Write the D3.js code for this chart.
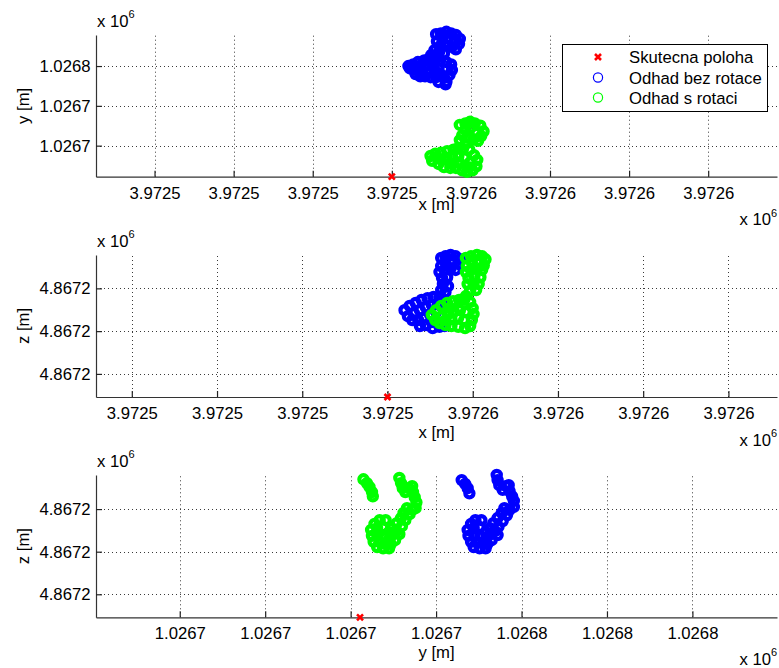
<!DOCTYPE html>
<html>
<head>
<meta charset="utf-8">
<script src="https://cdn.jsdelivr.net/npm/d3@7"></script>
<style>
  html, body { margin: 0; padding: 0; background: #fff; }
  svg { display: block; font-family: "Liberation Sans", Arial, Helvetica, sans-serif; }
</style>
</head>
<body>
<svg id="chart" width="779" height="668"></svg>
<script>
// ---- true receiver position [m] ----
const truthX = [3972545.0];
const truthY = [1026737.1];
const truthZ = [4867184.6];

// ---- position estimates without rotation (blue) ----
const xyBez = [
  [3972550.6,1026755.0],[3972551.2,1026755.1],[3972551.9,1026755.3],[3972552.5,1026755.1],[3972553.1,1026754.9],
  [3972553.6,1026754.4],[3972553.5,1026753.8],[3972552.9,1026754.0],[3972552.1,1026754.5],[3972551.4,1026754.4],
  [3972550.7,1026754.1],[3972551.1,1026753.5],[3972551.9,1026753.6],[3972552.6,1026753.4],[3972553.1,1026753.1],
  [3972550.4,1026753.0],[3972551.0,1026752.8],[3972551.6,1026752.6],[3972550.0,1026752.4],[3972550.7,1026752.1],
  [3972547.1,1026751.0],[3972547.7,1026751.2],[3972548.3,1026751.5],[3972549.1,1026751.7],[3972549.7,1026751.9],
  [3972550.4,1026751.6],[3972551.1,1026751.7],[3972551.9,1026751.5],[3972552.5,1026751.2],[3972552.6,1026750.5],
  [3972552.3,1026749.9],[3972551.6,1026749.5],[3972551.9,1026749.0],[3972551.1,1026750.0],[3972550.4,1026750.5],
  [3972549.6,1026750.2],[3972548.8,1026750.4],[3972548.1,1026750.5],[3972547.3,1026750.7],[3972548.6,1026751.0],
  [3972549.3,1026751.1],[3972550.1,1026751.0],[3972550.9,1026750.7],[3972549.2,1026749.7],[3972549.9,1026749.6],
  [3972550.6,1026749.6],[3972548.0,1026750.0],[3972548.6,1026749.7],[3972551.8,1026748.7],[3972550.9,1026749.0]
];
const xzBez = [
  [3972551.3,4867217.1],[3972551.8,4867217.5],[3972552.4,4867217.8],[3972553.0,4867217.5],[3972553.5,4867216.8],
  [3972553.3,4867215.7],[3972552.5,4867216.1],[3972551.8,4867216.1],[3972551.3,4867215.2],[3972551.1,4867213.8],
  [3972551.7,4867214.3],[3972552.4,4867214.7],[3972553.0,4867214.3],[3972551.4,4867212.4],[3972552.0,4867212.6],
  [3972551.5,4867211.0],[3972552.1,4867210.5],[3972551.3,4867209.6],[3972551.8,4867209.1],
  [3972547.0,4867204.9],[3972547.6,4867205.9],[3972548.3,4867206.6],[3972549.0,4867207.3],[3972549.7,4867207.7],
  [3972550.4,4867208.0],[3972551.1,4867208.0],[3972551.6,4867207.3],[3972547.4,4867203.5],[3972548.1,4867204.2],
  [3972548.8,4867204.9],[3972549.5,4867205.6],[3972550.2,4867206.1],[3972550.9,4867206.3],[3972547.9,4867202.6],
  [3972548.6,4867202.6],[3972549.3,4867203.1],[3972550.0,4867203.8],[3972550.7,4867204.5],[3972548.8,4867201.2],
  [3972549.5,4867201.4],[3972550.2,4867202.1],[3972550.9,4867202.1],[3972551.1,4867201.0],[3972550.3,4867200.7],
  [3972551.7,4867201.2]
];
const yzBez = [
  [1026749.0,4867216.8],[1026749.4,4867215.9],[1026749.7,4867214.9],[1026749.9,4867213.7],
  [1026753.1,4867218.0],[1026753.2,4867216.8],[1026753.4,4867215.6],[1026753.8,4867214.5],[1026754.2,4867215.4],
  [1026754.5,4867215.6],[1026754.6,4867214.2],[1026754.9,4867213.0],[1026755.1,4867211.9],[1026755.1,4867210.5],
  [1026754.6,4867209.8],[1026754.0,4867210.2],[1026753.7,4867209.1],[1026754.3,4867208.6],[1026753.2,4867207.9],
  [1026753.8,4867207.2],[1026752.7,4867206.7],[1026753.3,4867205.8],[1026752.3,4867205.5],[1026752.9,4867204.8],
  [1026753.2,4867203.9],
  [1026750.1,4867206.5],[1026750.6,4867207.4],[1026751.3,4867207.4],[1026749.7,4867205.1],[1026750.4,4867205.5],
  [1026751.1,4867205.8],[1026751.8,4867204.6],[1026749.8,4867203.7],[1026750.5,4867203.9],[1026751.2,4867203.7],
  [1026751.9,4867203.2],[1026750.1,4867202.3],[1026750.8,4867202.3],[1026751.5,4867202.0],[1026752.0,4867201.8],
  [1026750.4,4867201.1],[1026751.1,4867200.8],[1026751.8,4867200.8],[1026752.5,4867202.7],[1026752.4,4867204.1]
];

// ---- position estimates with rotation (green) ----
const xyRot = [
  [3972553.6,1026743.6],[3972554.3,1026743.8],[3972554.9,1026744.0],[3972555.5,1026743.8],[3972556.2,1026743.5],
  [3972556.6,1026742.8],[3972556.3,1026742.2],[3972555.7,1026742.6],[3972554.9,1026743.2],[3972554.3,1026743.0],
  [3972553.9,1026742.3],[3972554.5,1026742.0],[3972555.3,1026741.8],[3972555.9,1026741.6],[3972553.6,1026741.7],
  [3972554.3,1026741.2],
  [3972549.9,1026739.7],[3972550.5,1026740.0],[3972551.2,1026740.1],[3972552.0,1026740.3],[3972552.8,1026740.5],
  [3972553.4,1026740.7],[3972554.0,1026740.6],[3972554.8,1026740.5],[3972555.4,1026739.8],[3972555.8,1026739.2],
  [3972555.7,1026738.4],[3972555.2,1026737.9],[3972554.5,1026737.7],[3972553.9,1026737.9],[3972553.1,1026738.2],
  [3972552.4,1026738.2],[3972551.6,1026738.3],[3972550.9,1026738.7],[3972550.1,1026739.1],[3972551.1,1026739.3],
  [3972551.9,1026739.5],[3972552.6,1026739.6],[3972553.4,1026739.6],[3972554.2,1026739.5],[3972554.9,1026738.9],
  [3972553.4,1026738.9],[3972552.4,1026738.8],[3972554.7,1026738.3]
];
const xzRot = [
  [3972554.2,4867217.1],[3972554.8,4867217.5],[3972555.5,4867217.8],[3972556.1,4867217.5],[3972556.5,4867216.8],
  [3972556.3,4867215.4],[3972555.6,4867216.1],[3972554.9,4867216.1],[3972554.3,4867215.2],[3972554.2,4867213.8],
  [3972554.8,4867214.3],[3972555.5,4867214.5],[3972556.1,4867214.3],[3972555.9,4867212.6],[3972555.2,4867212.9],
  [3972554.5,4867212.4],[3972554.4,4867211.0],[3972555.1,4867211.0],[3972555.7,4867211.0],[3972554.7,4867209.4],
  [3972555.4,4867209.6],[3972554.2,4867208.2],
  [3972550.2,4867203.8],[3972550.7,4867204.9],[3972551.3,4867205.9],[3972552.0,4867206.6],[3972552.7,4867207.0],
  [3972553.4,4867207.3],[3972554.0,4867207.3],[3972554.7,4867206.8],[3972555.0,4867205.4],[3972555.1,4867204.0],
  [3972554.9,4867202.6],[3972554.7,4867201.2],[3972554.1,4867200.7],[3972553.3,4867201.0],[3972552.5,4867201.2],
  [3972551.8,4867201.4],[3972551.1,4867201.9],[3972550.6,4867202.6],[3972551.4,4867203.5],[3972552.1,4867204.0],
  [3972552.8,4867204.5],[3972553.5,4867204.9],[3972554.2,4867204.5],[3972553.3,4867203.1],[3972552.5,4867202.8],
  [3972554.0,4867202.6],[3972551.8,4867202.6],[3972552.3,4867205.4]
];
const yzRot = [
  [1026737.5,4867217.0],[1026737.9,4867216.1],[1026738.2,4867215.2],[1026738.5,4867214.0],[1026738.6,4867213.0],
  [1026741.7,4867217.3],[1026741.9,4867216.1],[1026742.1,4867214.9],[1026742.4,4867214.0],[1026742.8,4867214.9],
  [1026743.2,4867215.4],[1026743.3,4867214.0],[1026743.5,4867212.8],[1026743.7,4867211.6],[1026743.6,4867210.2],
  [1026743.2,4867209.8],[1026742.6,4867210.2],[1026742.2,4867209.1],[1026742.9,4867208.8],[1026741.9,4867207.9],
  [1026742.4,4867207.4],[1026741.4,4867206.7],[1026742.0,4867206.0],[1026740.8,4867205.5],[1026741.4,4867204.8],
  [1026741.7,4867204.1],
  [1026738.8,4867206.5],[1026739.4,4867207.4],[1026740.1,4867207.4],[1026738.4,4867205.1],[1026739.1,4867205.5],
  [1026739.8,4867205.8],[1026740.5,4867204.6],[1026738.5,4867203.7],[1026739.2,4867203.9],[1026739.9,4867203.7],
  [1026740.6,4867203.2],[1026738.7,4867202.3],[1026739.4,4867202.3],[1026740.1,4867202.0],[1026740.7,4867201.8],
  [1026739.1,4867201.1],[1026739.8,4867200.8],[1026740.5,4867200.8],[1026741.2,4867202.7],[1026741.0,4867204.1]
];

// ---- ticks and labels ----
const xTicks = [3972515, 3972525, 3972535, 3972545, 3972555, 3972565, 3972575, 3972585];
const xTickLabels = ["3.9725", "3.9725", "3.9725", "3.9725", "3.9726", "3.9726", "3.9726", "3.9726"];
const yTicksVert = [1026741, 1026746, 1026751];
const yTickLabelsVert = ["1.0267", "1.0267", "1.0268"];
const zTicks = [4867190, 4867200, 4867210];
const zTickLabels = ["4.8672", "4.8672", "4.8672"];
const yTicksHoriz = [1026716, 1026726, 1026736, 1026746, 1026756, 1026766, 1026776];
const yTickLabelsHoriz = ["1.0267", "1.0267", "1.0267", "1.0267", "1.0268", "1.0268", "1.0268"];

const legendLabels = ["Skutecna poloha", "Odhad bez rotace", "Odhad s rotaci"];
const exponentText = "x 10";
const exponentSup = "6";

// ---- styling ----
const BLUE = "#0000ff", GREEN = "#00ff00", RED = "#ff0000";
const FONT = 16.7;
const left = 96, right = 777;
const MARK_R = 4.1, MARK_W = 4.2;   // scatter rings (dense clouds)

const panels = [
  { top: 35, bottom: 176.7, xDom: [3972507.6, 3972593.7], yDom: [1026737.1, 1026754.9],
    xt: xTicks, xl: xTickLabels, yt: yTicksVert, yl: yTickLabelsVert,
    xTitle: "x [m]", yTitle: "y [m]", titleOff: 33.5,
    truth: [truthX[0], truthY[0]], blue: xyBez, green: xyRot, legend: true },
  { top: 255, bottom: 397, xDom: [3972510.8, 3972590.7], yDom: [4867184.6, 4867217.8],
    xt: xTicks, xl: xTickLabels, yt: zTicks, yl: zTickLabels,
    xTitle: "x [m]", yTitle: "z [m]", titleOff: 40.5,
    truth: [truthX[0], truthZ[0]], blue: xzBez, green: xzRot },
  { top: 475, bottom: 617.3, xDom: [1026706.2, 1026785.9], yDom: [4867184.6, 4867218.0],
    xt: yTicksHoriz, xl: yTickLabelsHoriz, yt: zTicks, yl: zTickLabels,
    xTitle: "y [m]", yTitle: "z [m]", titleOff: 41,
    truth: [truthY[0], truthZ[0]], blue: yzBez, green: yzRot }
];

const svg = d3.select("#chart");
svg.append("rect").attr("width", 779).attr("height", 668).attr("fill", "#fff");

const crossPath = "M-3,-3L3,3M-3,3L3,-3";

panels.forEach((p, pi) => {
  const x = d3.scaleLinear().domain(p.xDom).range([left, right]);
  const y = d3.scaleLinear().domain(p.yDom).range([p.bottom, p.top]);
  const g = svg.append("g");

  // dotted grid
  const grid = g.append("g").attr("stroke", "#3a3a3a").attr("stroke-width", 1)
    .attr("stroke-dasharray", "1 3");
  grid.selectAll("line.v").data(p.xt).join("line").attr("class", "v")
    .attr("x1", d => Math.round(x(d)) + 0.5).attr("x2", d => Math.round(x(d)) + 0.5)
    .attr("y1", p.bottom).attr("y2", p.top);
  grid.selectAll("line.h").data(p.yt).join("line").attr("class", "h")
    .attr("x1", left).attr("x2", right)
    .attr("y1", d => Math.round(y(d)) + 0.5).attr("y2", d => Math.round(y(d)) + 0.5);

  // axes (ticks pointing inward)
  const ax = d3.axisBottom(x).tickValues(p.xt).tickFormat((d, i) => p.xl[i])
    .tickSizeInner(-6).tickSizeOuter(0).tickPadding(10);
  const ay = d3.axisLeft(y).tickValues(p.yt).tickFormat((d, i) => p.yl[i])
    .tickSizeInner(-6).tickSizeOuter(0).tickPadding(5.5);
  const gx = g.append("g").attr("transform", `translate(0,${p.bottom})`).call(ax);
  const gy = g.append("g").attr("transform", `translate(${left},0)`).call(ay);
  [gx, gy].forEach(a => {
    a.selectAll("path.domain").attr("stroke", "#333").attr("stroke-width", 1.2);
    a.selectAll(".tick line").attr("stroke", "#222").attr("stroke-width", 1.2);
    a.selectAll("text").attr("font-size", FONT).attr("fill", "#000")
      .attr("font-family", "'Liberation Sans', Arial, Helvetica, sans-serif");
  });

  // axis titles
  g.append("text").attr("x", 436.5).attr("y", p.bottom + p.titleOff)
    .attr("text-anchor", "middle").attr("font-size", FONT).text(p.xTitle);
  g.append("text").attr("transform", `translate(29,${(p.top + p.bottom) / 2}) rotate(-90)`)
    .attr("text-anchor", "middle").attr("font-size", FONT).text(p.yTitle);

  // exponent labels
  const e1 = g.append("text").attr("x", 97).attr("y", p.top - 8.3).attr("font-size", FONT);
  e1.append("tspan").text(exponentText);
  e1.append("tspan").attr("font-size", 11).attr("dy", -8.5).text(exponentSup);
  const e2 = g.append("text").attr("x", 739.5)
    .attr("y", Math.min(p.bottom + 48.5, 664.5)).attr("font-size", FONT);
  e2.append("tspan").text(exponentText);
  e2.append("tspan").attr("font-size", 11).attr("dy", -8.5).text(exponentSup);

  // true position
  g.append("path").attr("d", crossPath)
    .attr("transform", `translate(${x(p.truth[0])},${y(p.truth[1])})`)
    .attr("stroke", RED).attr("stroke-width", 2.6).attr("fill", "none");

  // estimates
  g.append("g").selectAll("circle").data(p.blue).join("circle")
    .attr("cx", d => x(d[0])).attr("cy", d => y(d[1])).attr("r", MARK_R)
    .attr("fill", "none").attr("stroke", BLUE).attr("stroke-width", MARK_W);
  g.append("g").selectAll("circle").data(p.green).join("circle")
    .attr("cx", d => x(d[0])).attr("cy", d => y(d[1])).attr("r", MARK_R)
    .attr("fill", "none").attr("stroke", GREEN).attr("stroke-width", MARK_W);

  if (p.legend) {
    const lg = svg.append("g");
    lg.append("rect").attr("x", 562.5).attr("y", 44.5).attr("width", 205).attr("height", 67)
      .attr("fill", "#fff").attr("stroke", "#000").attr("stroke-width", 1);
    const rows = [57, 77.5, 97.5];
    lg.append("path").attr("d", crossPath).attr("transform", `translate(598,${rows[0]})`)
      .attr("stroke", RED).attr("stroke-width", 2.6).attr("fill", "none");
    lg.append("circle").attr("cx", 598).attr("cy", rows[1]).attr("r", 4.6)
      .attr("fill", "none").attr("stroke", BLUE).attr("stroke-width", 1.2);
    lg.append("circle").attr("cx", 598).attr("cy", rows[2]).attr("r", 4.6)
      .attr("fill", "none").attr("stroke", GREEN).attr("stroke-width", 1.2);
    legendLabels.forEach((t, i) => {
      lg.append("text").attr("x", 629).attr("y", rows[i]).attr("dy", "0.36em")
        .attr("font-size", FONT).text(t);
    });
  }
});
</script>
</body>
</html>
